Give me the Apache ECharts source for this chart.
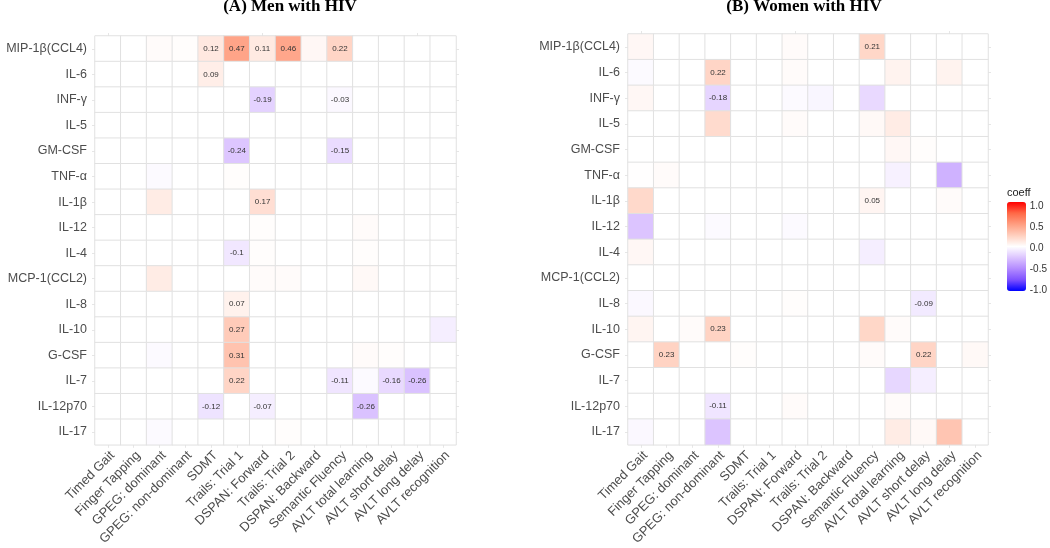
<!DOCTYPE html>
<html><head><meta charset="utf-8">
<script src="https://cdn.jsdelivr.net/npm/echarts@6/dist/echarts.min.js"></script>
<style>html,body{margin:0;padding:0;background:#fff}#c{width:1050px;height:548px}</style>
</head><body><div id="c"></div>
<script>
const cytokines = ['MIP-1β(CCL4)','IL-6','INF-γ','IL-5','GM-CSF','TNF-α','IL-1β','IL-12','IL-4','MCP-1(CCL2)','IL-8','IL-10','G-CSF','IL-7','IL-12p70','IL-17'];
const tests = ['Timed Gait','Finger Tapping','GPEG: dominant','GPEG: non-dominant','SDMT','Trails: Trial 1','DSPAN: Forward','Trails: Trial 2','DSPAN: Backward','Semantic Fluency','AVLT total learning','AVLT short delay','AVLT long delay','AVLT recognition'];

// rows = cytokines (top to bottom), columns = tests
const menValues = [
  [0, 0, 0.02, 0.01, 0.12, 0.47, 0.11, 0.46, 0.04, 0.22, 0, 0, 0, 0],
  [0, 0, 0, 0, 0.09, 0, 0, 0, 0, 0, 0, 0, 0, 0],
  [0, 0, 0, 0, 0, 0, -0.19, 0, 0, -0.03, 0, 0, 0, 0],
  [0, 0, 0, 0, 0, 0, 0, 0, 0, 0, 0, 0, 0, 0],
  [0, 0, 0, 0, 0, -0.24, 0, 0, 0, -0.15, 0, 0, 0, 0],
  [0, 0, -0.02, 0, 0, 0.01, 0, 0, 0, 0, 0, 0, 0, 0],
  [0, 0, 0.1, 0, 0, 0, 0.17, 0, 0, 0, 0, 0, 0, 0],
  [0, 0, 0, 0, 0, 0, 0.01, 0, 0, 0, 0.02, 0, 0, 0],
  [0, 0, 0, 0, 0, -0.1, 0.01, 0, 0, 0, 0.01, 0, 0, 0],
  [0, 0, 0.1, 0, 0, 0, 0.02, 0.02, 0, 0, 0.03, 0, 0, 0],
  [0, 0, 0, 0, 0, 0.07, 0, 0, 0, 0, 0, 0, 0, 0],
  [0, 0, 0, 0, 0, 0.27, 0, 0, 0, 0, 0, 0, 0, -0.07],
  [0, 0, -0.02, 0, 0, 0.31, 0, 0, 0, 0, 0.02, 0.01, 0, 0],
  [0, 0, 0, 0, 0, 0.22, 0, 0, 0, -0.11, -0.02, -0.16, -0.26, 0],
  [0, 0, 0, 0, -0.12, 0, -0.07, 0, 0, 0, -0.26, 0, 0, 0],
  [0, 0, -0.02, 0, 0, 0, 0, 0.01, 0, 0, 0, 0, 0, 0]
];
const womenValues = [
  [0.04, 0, 0, 0, 0, 0, 0.02, 0, 0, 0.21, 0, 0, 0, 0],
  [-0.02, 0, 0, 0.22, 0, 0, 0.02, 0, 0, 0, 0.06, 0, 0.06, 0],
  [0.04, 0, 0, -0.18, 0, 0, -0.02, -0.04, 0, -0.16, 0, 0, 0, 0],
  [0, 0, 0, 0.19, 0, 0, 0.02, 0, 0, 0.03, 0.1, 0, 0, 0],
  [0, 0, 0, 0, 0, 0, 0, 0, 0, 0, 0.04, 0.01, 0, 0],
  [0.005, 0.02, 0, 0, 0, 0, 0, 0, 0, 0, -0.06, 0, -0.33, 0],
  [0.2, 0, 0, 0, 0, 0, 0, 0, 0, 0.05, 0, 0, 0.02, 0],
  [-0.25, 0, 0, -0.02, 0, 0, -0.02, 0, 0, 0, 0, 0, 0, 0],
  [0.04, 0, 0, 0, 0, 0, 0, 0, 0, -0.07, 0, 0, 0, 0],
  [0, 0, 0, 0, 0, 0, 0, 0, 0, 0, 0, 0, 0, 0],
  [-0.03, 0, 0, 0, 0, 0, 0.01, 0, 0, 0, 0, -0.09, 0, 0],
  [0.05, 0, 0.02, 0.23, 0, 0, 0, 0, 0, 0.21, 0.02, 0, 0, 0],
  [0, 0.23, 0, 0, 0.01, 0, 0, 0, 0, 0.02, 0, 0.22, 0, 0.03],
  [0, 0, 0, 0, 0, 0, 0, 0, 0, 0, -0.17, -0.07, 0, 0],
  [0, 0, 0, -0.11, 0, 0, 0.02, 0, 0, 0, 0.02, 0, 0, 0],
  [-0.03, 0, 0, -0.25, 0, 0, 0, 0, 0, 0, 0.1, 0.03, 0.3, 0]
];
// cells printed with their coefficient: [row, column]
const menLabeled = [[0,4],[0,5],[0,6],[0,7],[0,9],[1,4],[2,6],[2,9],[4,5],[4,9],[6,6],[8,5],[10,5],[11,5],[12,5],[13,5],[13,9],[13,11],[13,12],[14,4],[14,6],[14,10]];
const womenLabeled = [[0,9],[1,3],[2,3],[6,9],[10,11],[11,3],[12,1],[12,11],[14,3]];
const panelTitles = ['(A) Men with HIV', '(B) Women with HIV'];
const legendTitle = 'coeff';
const coeffMin = -1, coeffMax = 1, coeffStep = 0.5;

function toCells(values, labeled) {
  const lab = new Set(labeled.map(p => p[0] + ',' + p[1]));
  const out = [];
  values.forEach((row, r) => row.forEach((v, c) => {
    const item = { value: [c, r, v] };
    if (lab.has(r + ',' + c)) item.label = { show: true };
    out.push(item);
  }));
  return out;
}

const FONT = 'Liberation Sans, Arial, sans-serif';
const grids = [
  { left: 95, top: 36, width: 361, height: 412 },
  { left: 628, top: 34, width: 360, height: 411 },
  { left: 1007, top: 206, width: 19, height: 84 }
];
const tickStyle = { show: true, alignWithLabel: true, length: 3, lineStyle: { color: '#e6e6e6', width: 1 } };

const xAxes = [], yAxes = [];
[0, 1].forEach(g => {
  xAxes.push({
    type: 'category', gridIndex: g, data: tests, position: 'bottom',
    axisLine: { show: false }, axisTick: tickStyle, splitLine: { show: false },
    axisLabel: { rotate: 45, align: 'right', verticalAlign: 'top', fontSize: 13, color: '#4d4d4d', fontFamily: FONT, margin: 4, interval: 0 }
  });
  xAxes.push({
    type: 'category', gridIndex: g, data: tests, position: 'top',
    axisLine: { show: false }, axisTick: tickStyle, axisLabel: { show: false }, splitLine: { show: false }
  });
  yAxes.push({
    type: 'category', gridIndex: g, data: cytokines, inverse: true, position: 'left',
    axisLine: { show: false }, axisTick: tickStyle, splitLine: { show: false },
    axisLabel: { fontSize: 12.5, color: '#4d4d4d', fontFamily: FONT, margin: 8, interval: 0 }
  });
  yAxes.push({
    type: 'category', gridIndex: g, data: cytokines, inverse: true, position: 'right',
    axisLine: { show: false }, axisTick: tickStyle, axisLabel: { show: false }, splitLine: { show: false }
  });
});
// legend scale axis
xAxes.push({ type: 'value', gridIndex: 2, show: false, min: 0, max: 1 });
yAxes.push({
  type: 'value', gridIndex: 2, min: coeffMin, max: coeffMax, interval: coeffStep, position: 'right',
  axisLine: { show: false }, axisTick: { show: false }, splitLine: { show: false },
  axisLabel: { formatter: v => v.toFixed(1), fontSize: 10, color: '#333', fontFamily: FONT, margin: 4 }
});

function heat(values, labeled, g) {
  return {
    type: 'heatmap', xAxisIndex: g * 2, yAxisIndex: g * 2,
    data: toCells(values, labeled),
    itemStyle: { borderColor: '#e1e1e1', borderWidth: 1 },
    label: { show: false, formatter: p => String(p.value[2]), fontSize: 8, color: '#333', fontFamily: FONT },
    emphasis: { disabled: true }
  };
}

const chart = echarts.init(document.getElementById('c'), null, { renderer: 'canvas' });
chart.setOption({
  animation: false,
  backgroundColor: '#fff',
  title: [
    { text: panelTitles[0], left: 290, top: -2, textAlign: 'center', padding: 0,
      textStyle: { fontFamily: 'Liberation Serif, Times New Roman, serif', fontWeight: 'bold', fontSize: 17, color: '#000' } },
    { text: panelTitles[1], left: 804, top: -2, textAlign: 'center', padding: 0,
      textStyle: { fontFamily: 'Liberation Serif, Times New Roman, serif', fontWeight: 'bold', fontSize: 17, color: '#000' } },
    { text: legendTitle, left: 1007, top: 187, padding: 0,
      textStyle: { fontFamily: FONT, fontWeight: 'normal', fontSize: 11, color: '#222' } }
  ],
  grid: grids,
  xAxis: xAxes,
  yAxis: yAxes,
  visualMap: {
    type: 'continuous', min: coeffMin, max: coeffMax, seriesIndex: [0, 1],
    calculable: false, hoverLink: false, realtime: false,
    left: 1007, top: 202, itemWidth: 19, itemHeight: 89, padding: 0,
    text: null, showLabel: false,
    inRange: { color: ['#0000FF', '#7E51FF', '#B38BFF', '#DCC4FF', '#FFFFFF', '#FFCFBE', '#FF9E81', '#FF6846', '#FF0000'] }
  },
  series: [heat(menValues, menLabeled, 0), heat(womenValues, womenLabeled, 1)]
});
</script></body></html>
